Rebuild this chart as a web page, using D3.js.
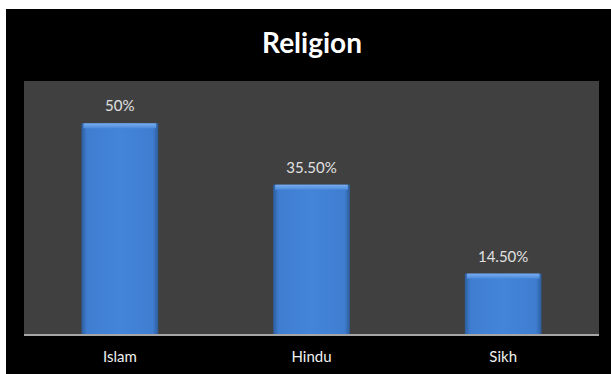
<!DOCTYPE html>
<html>
<head>
<meta charset="utf-8">
<script src="https://cdn.jsdelivr.net/npm/d3@7"></script>
<style>
  body{margin:0;background:#fff;}
  svg{display:block;}
</style>
</head>
<body>
<div id="chart"></div>
<script>
var religions = ["Islam","Hindu","Sikh"];
var shares = [50,35.5,14.5];
var shareLabels = ["50%","35.50%","14.50%"];
var chartTitle = "Religion";

var width = 611, height = 374;
var plot = {left:24, right:599, top:81, bottom:335};

var svg = d3.select("#chart")
    .append("svg")
    .attr("width",width)
    .attr("height",height);

var defs = svg.append("defs");
var g1 = defs.append("linearGradient").attr("id","barside").attr("x1","0").attr("x2","1").attr("y1","0").attr("y2","0");
g1.append("stop").attr("offset","0").attr("stop-color","#2c5d9c");
g1.append("stop").attr("offset","0.07").attr("stop-color","#3f7dd0");
g1.append("stop").attr("offset","0.5").attr("stop-color","#4485d9");
g1.append("stop").attr("offset","0.93").attr("stop-color","#3f7dd0");
g1.append("stop").attr("offset","1").attr("stop-color","#2c5d9c");
var g2 = defs.append("linearGradient").attr("id","bartop").attr("x1","0").attr("x2","0").attr("y1","0").attr("y2","1");
g2.append("stop").attr("offset","0").attr("stop-color","#79aef0");
g2.append("stop").attr("offset","1").attr("stop-color","#4a89da");

// backgrounds
svg.append("rect").attr("x",6).attr("y",9).attr("width",width-6).attr("height",height-9).attr("fill","#000");
svg.append("rect")
    .attr("x",plot.left).attr("y",plot.top)
    .attr("width",plot.right-plot.left).attr("height",plot.bottom-plot.top)
    .attr("fill","#404040");

var xScale = d3.scaleBand()
    .domain(religions)
    .range([plot.left,plot.right])
    .paddingInner(0.6)
    .paddingOuter(0.3);

var yScale = d3.scaleLinear()
    .domain([0,60])
    .range([plot.bottom,plot.top]);

svg.append("text")
    .attr("x",312)
    .attr("y",53)
    .attr("text-anchor","middle")
    .attr("font-family","Lato, 'Open Sans', sans-serif")
    .attr("font-weight","bold")
    .attr("font-size",28)
    .attr("fill","#fff")
    .text(chartTitle);

var bars = svg.selectAll("g.bar")
    .data(shares)
    .enter()
    .append("g")
    .attr("class","bar");

bars.append("rect")
    .attr("x",function(d,i){return xScale(religions[i]);})
    .attr("y",function(d){return yScale(d);})
    .attr("width",xScale.bandwidth())
    .attr("height",function(d){return yScale(0)-yScale(d);})
    .attr("fill","url(#barside)");

bars.append("rect")
    .attr("x",function(d,i){return xScale(religions[i])+2;})
    .attr("y",function(d){return yScale(d);})
    .attr("width",xScale.bandwidth()-4)
    .attr("height",5)
    .attr("fill","url(#bartop)");

bars.append("text")
    .attr("x",function(d,i){return xScale(religions[i])+xScale.bandwidth()/2;})
    .attr("y",function(d){return yScale(d)-12;})
    .attr("text-anchor","middle")
    .attr("font-family","Lato, 'Open Sans', sans-serif")
    .attr("font-size",15)
    .attr("fill","#e0e0e0")
    .text(function(d,i){return shareLabels[i];});

var xAxis = d3.axisBottom(xScale).tickSize(0).tickPadding(16);
var ax = svg.append("g")
    .attr("transform","translate(0,"+plot.bottom+")")
    .call(xAxis);
ax.select(".domain").attr("stroke","#a6a6a6").attr("stroke-width",2)
    .attr("d","M"+plot.left+",0H"+plot.right);
ax.selectAll("text")
    .attr("font-family","Lato, 'Open Sans', sans-serif")
    .attr("font-size",15)
    .attr("fill","#f0f0f0");
</script>
</body>
</html>
